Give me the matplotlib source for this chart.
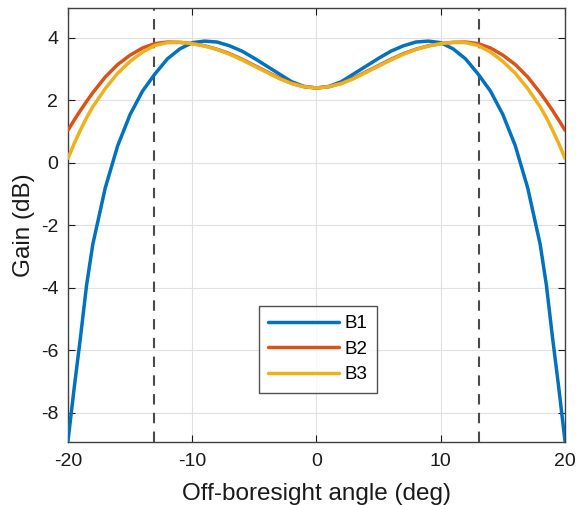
import matplotlib
matplotlib.use("Agg")
import matplotlib.pyplot as plt

plt.rcParams['font.family'] = ['Liberation Sans', 'DejaVu Sans']
plt.rcParams['axes.unicode_minus'] = False

angle = [-20, -19.5, -19, -18.5, -18, -17, -16, -15, -14, -13, -12, -11, -10, -9, -8, -7, -6, -5, -4, -3, -2, -1, 0,
         1, 2, 3, 4, 5, 6, 7, 8, 9, 10, 11, 12, 13, 14, 15, 16, 17, 18, 18.5, 19, 19.5, 20]
b1 = [-8.9, -7.2, -5.6, -3.9, -2.6, -0.8, 0.55, 1.55, 2.3, 2.85, 3.33, 3.65, 3.85, 3.9, 3.87, 3.75, 3.58, 3.35, 3.1, 2.85, 2.6, 2.45, 2.4,
      2.45, 2.6, 2.85, 3.1, 3.35, 3.58, 3.75, 3.87, 3.9, 3.85, 3.65, 3.33, 2.85, 2.3, 1.55, 0.55, -0.8, -2.6, -3.9, -5.6, -7.2, -8.9]
b2 = [1.05, 1.37, 1.68, 1.97, 2.25, 2.75, 3.15, 3.45, 3.68, 3.82, 3.87, 3.86, 3.82, 3.75, 3.64, 3.5, 3.32, 3.12, 2.92, 2.72, 2.55, 2.44, 2.4,
      2.44, 2.55, 2.72, 2.92, 3.12, 3.32, 3.5, 3.64, 3.75, 3.82, 3.86, 3.87, 3.82, 3.68, 3.45, 3.15, 2.75, 2.25, 1.97, 1.68, 1.37, 1.05]
b3 = [0.15, 0.62, 1.05, 1.45, 1.8, 2.38, 2.87, 3.25, 3.55, 3.76, 3.85, 3.86, 3.82, 3.74, 3.63, 3.48, 3.3, 3.1, 2.9, 2.7, 2.54, 2.44, 2.4,
      2.44, 2.54, 2.7, 2.9, 3.1, 3.3, 3.48, 3.63, 3.74, 3.82, 3.86, 3.85, 3.76, 3.55, 3.25, 2.87, 2.38, 1.8, 1.45, 1.05, 0.62, 0.15]
series = [("B1", b1, "#0072BD"), ("B2", b2, "#D95319"), ("B3", b3, "#EDB120")]
edge_angles = [-13.1, 13.1]
xticks = [-20, -10, 0, 10, 20]
yticks = [-8, -6, -4, -2, 0, 2, 4]

fig = plt.figure(figsize=(5.78, 5.05), dpi=100)
ax = fig.add_axes([0.1176, 0.1248, 0.8599, 0.8594])

for name, vals, col in series:
    ax.plot(angle, vals, color=col, lw=2.5, label=name, zorder=3,
            solid_joinstyle="round", solid_capstyle="round")
for a in edge_angles:
    ax.axvline(a, color="#4a4a4a", lw=1.5, ls=(0, (5, 4)), zorder=2)

ax.set_xlim(-20, 20)
ax.set_ylim(-8.93, 4.96)
ax.set_xticks(xticks)
ax.set_yticks(yticks)
ax.grid(True, color="#e0e0e0", lw=0.8, zorder=0)
ax.set_axisbelow(True)
ax.tick_params(direction="in", top=True, right=True, labelsize=14, colors="#1a1a1a", length=5)
ax.tick_params(axis="x", pad=8)
ax.tick_params(axis="y", pad=7)
for s in ax.spines.values():
    s.set_color("#404040")
    s.set_linewidth(1.0)
ax.set_xlabel("Off-boresight angle (deg)", fontsize=17.5, color="#1a1a1a", labelpad=9)
ax.set_ylabel("Gain (dB)", fontsize=17.5, color="#1a1a1a", labelpad=4)

leg = ax.legend(loc="center", bbox_to_anchor=(0.503, 0.214), fontsize=13.5, frameon=True,
                fancybox=False, edgecolor="#262626", handlelength=3.8, handletextpad=0.3,
                labelspacing=0.45, borderpad=0.5, borderaxespad=0)
leg.get_frame().set_linewidth(1.0)

fig.savefig("out.png", dpi=100)
